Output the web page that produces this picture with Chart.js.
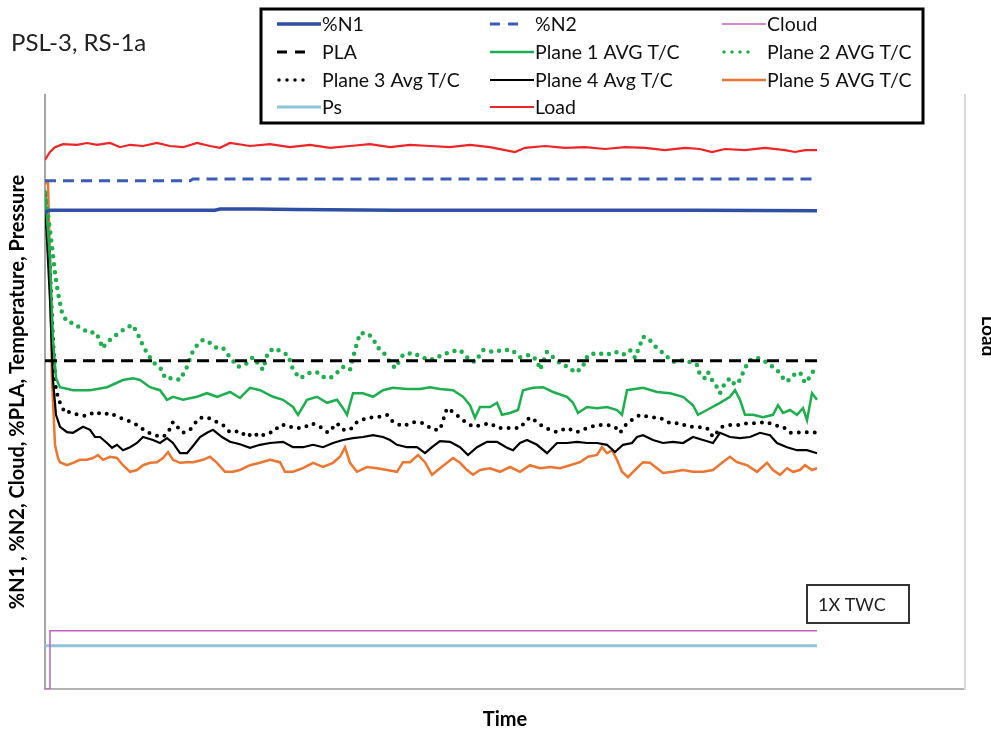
<!DOCTYPE html>
<html>
<head>
<meta charset="utf-8">
<script src="https://cdn.jsdelivr.net/npm/chart.js@4.4.1/dist/chart.umd.min.js"></script>
<style>
  html, body { margin: 0; padding: 0; background: #fff; }
  #wrap { width: 991px; height: 732px; }
</style>
</head>
<body>
<div id="wrap"><canvas id="c" width="991" height="732"></canvas></div>
<script>
// time axis in minutes, values in % of full scale
const n1T = [0, 0.5, 10, 17, 17.5, 21, 25, 35, 45, 55, 65, 77.2];
const n1V = [79.5, 79.8, 79.8, 79.8, 80.0, 80.0, 79.9, 79.8, 79.8, 79.8, 79.8, 79.7];

const n2T = [0, 14.5, 14.8, 77.2];
const n2V = [84.7, 84.7, 85.0, 85.0];

const cloudT = [0, 0.5, 0.5, 77.2];
const cloudV = [0, 0, 9.7, 9.7];

const plaT = [0, 77.2];
const plaV = [54.7, 54.7];

const psT = [0, 77.2];
const psV = [7.2, 7.2];

const loadT = [0, 0.5, 1.0, 1.8, 3.2, 4.2, 5.2, 6.5, 7.5, 8.5, 9.8, 11.2, 12.5, 13.8, 15.2, 16.5, 17.5, 18.5, 20.5, 22.5,
  24.5, 26.5, 28.5, 30.5, 32.5, 34.5, 36.5, 38.5, 40.5, 42.5, 44.5, 46.0, 47.0, 48.0, 50.0, 52.0, 54.0, 56.0, 58.0, 60.0,
  62.0, 64.0, 65.5, 66.7, 68.0, 70.0, 72.0, 74.0, 75.0, 76.0, 77.2];
const loadV = [88.2, 89.5, 90.3, 90.8, 90.7, 91.0, 90.7, 91.0, 90.3, 90.7, 90.5, 91.0, 90.5, 90.3, 91.0, 90.5, 90.2, 91.0, 90.5, 90.8,
  90.3, 90.7, 90.2, 90.5, 90.8, 90.3, 90.7, 90.5, 90.3, 90.7, 90.3, 89.8, 89.5, 90.2, 90.5, 90.2, 90.3, 90.0, 90.3, 90.2,
  89.8, 90.2, 90.0, 89.5, 90.0, 89.8, 90.2, 89.8, 89.5, 89.8, 89.8];

const p1T = [0, 0.5, 0.8, 1.1, 1.5, 2.8, 4.5, 6.2, 7.8, 8.8, 9.5, 10.5, 11.5, 12.2, 12.8, 13.8, 15.2, 16.2, 17.2, 18.5,
  19.5, 20.5, 21.5, 22.8, 23.8, 24.8, 25.3, 26.2, 27.2, 28.2, 29.2, 29.8, 30.2, 30.8, 31.8, 32.8, 33.8, 34.8, 36.2, 37.5,
  38.5, 39.5, 40.8, 41.8, 42.5, 43.0, 43.5, 44.5, 45.2, 45.7, 46.5, 47.3, 47.8, 48.8, 49.8, 50.8, 52.2, 52.8, 53.3, 54.2,
  55.2, 56.2, 57.2, 57.7, 58.2, 59.8, 61.2, 62.5, 63.8, 64.8, 65.3, 66.2, 67.5, 68.5, 69.0, 69.5, 70.0, 70.8, 71.8, 72.8,
  73.3, 73.8, 74.5, 75.2, 75.8, 76.2, 76.7, 77.2];
const p1V = [83.2, 71.5, 58.2, 51.8, 50.3, 49.8, 49.8, 50.3, 51.5, 51.8, 51.5, 50.3, 49.8, 48.2, 48.7, 48.2, 48.7, 49.3, 48.7, 49.5,
  48.5, 50.2, 49.8, 48.7, 48.2, 47.0, 45.7, 48.2, 48.7, 47.7, 48.2, 46.8, 45.7, 49.3, 49.3, 48.7, 49.8, 50.2, 50.0, 50.0,
  50.3, 50.0, 49.8, 48.7, 47.3, 45.2, 47.0, 47.0, 47.7, 45.7, 46.0, 46.5, 49.8, 50.2, 50.3, 49.5, 48.7, 47.7, 46.0, 47.0,
  46.8, 47.0, 46.5, 45.7, 49.8, 50.2, 49.5, 49.3, 48.7, 47.3, 45.7, 46.5, 47.7, 48.7, 49.8, 48.2, 45.7, 45.7, 45.3, 45.7,
  47.3, 46.0, 46.5, 45.7, 46.8, 44.8, 49.3, 48.2];

const p2T = [0, 0.5, 0.7, 1.0, 1.3, 1.7, 2.2, 2.8, 3.5, 4.5, 5.0, 5.5, 5.7, 6.5, 7.5, 8.2, 8.7, 9.2, 9.5, 10.2,
  10.8, 11.7, 12.0, 12.7, 13.5, 14.2, 14.7, 15.2, 15.8, 16.5, 17.2, 17.8, 18.5, 19.3, 20.2, 20.8, 21.8, 22.3, 23.0, 23.8,
  24.3, 24.8, 25.5, 26.5, 27.2, 27.8, 28.5, 29.2, 29.8, 30.5, 31.0, 31.5, 32.2, 32.8, 33.2, 33.8, 34.5, 35.0, 35.8, 36.8,
  37.7, 38.5, 39.5, 40.5, 41.5, 42.5, 43.0, 43.8, 44.8, 45.8, 46.7, 47.5, 48.5, 49.2, 49.5, 50.2, 50.8, 51.5, 52.5, 53.0,
  53.7, 54.3, 55.2, 56.2, 57.0, 57.8, 58.5, 59.0, 59.5, 59.8, 60.3, 60.7, 61.2, 61.8, 62.8, 63.8, 64.5, 65.2, 65.5, 66.0,
  66.3, 66.7, 67.2, 67.5, 68.0, 68.5, 69.0, 69.5, 70.0, 70.5, 71.2, 71.8, 72.5, 73.2, 73.7, 74.2, 74.8, 75.5, 76.0, 76.5,
  77.0];
const p2V = [82.7, 76.5, 73.7, 69.3, 66.0, 62.7, 61.2, 61.0, 60.2, 59.3, 59.5, 58.2, 56.8, 58.2, 59.5, 60.2, 60.7, 59.5, 58.2, 56.0,
  54.5, 53.2, 51.8, 51.8, 51.5, 53.7, 56.0, 57.3, 58.2, 57.7, 56.8, 56.8, 55.3, 53.7, 54.3, 55.3, 53.2, 56.2, 56.8, 56.0,
  55.7, 53.2, 51.8, 52.7, 52.8, 52.0, 51.8, 52.7, 53.7, 53.2, 56.5, 59.3, 59.3, 58.5, 57.0, 56.2, 54.5, 53.5, 55.7, 56.0,
  55.3, 54.8, 55.5, 56.2, 56.5, 54.8, 54.5, 56.5, 56.2, 56.5, 56.5, 55.3, 55.7, 54.8, 53.2, 56.2, 55.3, 54.3, 53.5, 52.7,
  53.5, 55.7, 56.0, 55.7, 56.2, 55.7, 56.5, 55.2, 57.3, 58.7, 58.5, 57.7, 56.8, 56.0, 54.5, 54.8, 54.5, 54.0, 52.3, 51.8,
  52.8, 51.5, 50.3, 49.3, 51.0, 51.8, 50.7, 51.5, 53.5, 54.8, 55.2, 54.8, 54.0, 53.2, 52.0, 51.2, 52.3, 52.8, 51.0, 52.0,
  53.5];

const p3T = [0, 0.5, 0.8, 1.1, 1.5, 2.0, 2.5, 3.3, 4.2, 5.0, 5.8, 6.5, 7.3, 8.2, 9.2, 10.2, 11.0, 11.8, 12.3, 12.8,
  13.5, 13.8, 14.5, 15.0, 15.5, 16.2, 16.8, 17.8, 18.5, 19.5, 20.2, 20.8, 21.5, 22.2, 22.8, 23.5, 24.2, 24.8, 25.8, 26.7,
  27.5, 28.3, 29.2, 29.8, 30.5, 31.2, 32.2, 33.2, 34.2, 34.8, 35.8, 36.8, 37.8, 38.8, 39.5, 40.2, 40.8, 41.8, 42.8, 43.7,
  44.5, 45.3, 46.5, 47.5, 48.0, 48.5, 49.2, 49.8, 50.5, 51.2, 52.2, 53.2, 54.2, 55.2, 56.2, 57.0, 57.5, 58.2, 59.0, 59.5,
  60.5, 61.5, 62.5, 63.5, 64.3, 65.2, 66.2, 66.8, 67.7, 68.5, 69.5, 70.2, 71.2, 72.2, 72.8, 73.8, 74.5, 75.2, 75.8, 76.5,
  77.2];
const p3V = [82.3, 69.8, 58.2, 49.8, 47.7, 46.0, 46.2, 45.7, 45.5, 46.2, 45.7, 46.0, 45.3, 44.8, 44.0, 42.8, 42.3, 42.0, 42.7, 44.5,
  43.2, 42.7, 43.2, 44.3, 45.2, 45.3, 44.8, 44.0, 42.8, 43.0, 42.0, 42.7, 42.0, 42.7, 42.8, 44.0, 44.0, 43.5, 43.5, 44.3,
  43.7, 42.7, 44.3, 43.2, 43.2, 44.5, 45.2, 45.3, 45.7, 44.5, 43.8, 44.5, 44.3, 43.2, 43.2, 46.8, 46.2, 44.8, 43.7, 44.0,
  44.3, 43.5, 43.5, 43.5, 44.5, 45.3, 44.5, 43.7, 43.2, 42.8, 43.5, 42.8, 43.5, 44.0, 44.0, 43.7, 42.7, 44.3, 45.2, 45.7,
  45.3, 45.2, 44.3, 44.3, 43.7, 43.7, 43.5, 42.0, 43.7, 44.0, 44.0, 44.3, 44.3, 44.5, 44.0, 43.7, 42.7, 42.7, 42.8, 42.8,
  42.7];

const p4T = [0, 0.5, 0.8, 1.1, 1.5, 2.2, 2.8, 3.3, 3.8, 4.5, 5.0, 5.5, 6.2, 6.7, 7.2, 7.8, 8.5, 9.2, 9.8, 10.8,
  11.5, 12.2, 12.8, 13.5, 14.2, 14.7, 15.5, 16.2, 16.8, 17.7, 18.5, 19.5, 20.5, 21.5, 22.5, 23.8, 24.8, 25.8, 26.8, 27.8,
  28.8, 29.8, 30.8, 31.8, 32.8, 33.8, 34.5, 35.2, 36.2, 37.2, 38.0, 38.7, 39.5, 40.5, 41.5, 42.3, 43.2, 44.2, 45.2, 46.2,
  46.8, 47.5, 48.2, 49.2, 50.2, 51.2, 52.2, 53.2, 54.2, 55.2, 56.2, 57.0, 57.8, 58.7, 59.2, 59.8, 60.8, 61.8, 62.8, 63.8,
  64.8, 65.8, 66.8, 67.5, 68.5, 69.5, 70.5, 71.5, 72.5, 73.2, 74.2, 75.2, 76.2, 76.8, 77.2];
const p4V = [81.5, 64.8, 51.5, 45.7, 43.7, 42.8, 42.7, 43.2, 43.7, 43.2, 42.0, 42.0, 41.0, 40.2, 40.7, 39.8, 40.3, 41.0, 42.0, 41.5,
  41.0, 41.8, 41.0, 39.3, 39.3, 40.3, 42.0, 42.7, 43.2, 42.0, 41.2, 40.8, 40.2, 40.7, 41.0, 41.2, 40.3, 40.3, 40.7, 40.3,
  41.0, 41.5, 41.8, 42.0, 42.3, 42.0, 41.5, 40.7, 40.3, 40.3, 39.3, 40.3, 41.3, 41.2, 40.3, 39.0, 40.3, 41.2, 41.2, 40.2,
  39.8, 41.0, 41.5, 40.7, 39.3, 41.0, 41.0, 41.2, 41.0, 41.0, 40.7, 39.5, 40.7, 41.0, 42.0, 42.3, 41.5, 41.0, 41.2, 41.0,
  42.0, 41.5, 41.0, 42.7, 42.0, 41.8, 42.0, 42.7, 42.3, 41.0, 40.3, 39.8, 39.8, 39.5, 39.3];

const p5T = [0, 0.3, 0.5, 0.7, 1.0, 1.3, 1.5, 2.2, 2.8, 3.5, 4.2, 4.8, 5.3, 5.8, 6.5, 7.2, 7.8, 8.5, 9.2, 9.8,
  10.5, 11.2, 11.8, 12.3, 12.8, 13.5, 14.2, 14.8, 15.8, 16.5, 17.2, 18.0, 18.8, 19.5, 20.5, 21.5, 22.5, 23.5, 24.0, 24.8,
  25.8, 26.8, 27.8, 28.8, 29.5, 30.0, 30.5, 31.2, 32.2, 33.2, 34.2, 35.2, 35.8, 36.5, 37.3, 38.0, 38.7, 39.5, 40.2, 40.8,
  41.5, 42.2, 42.8, 43.5, 44.5, 45.5, 46.5, 47.5, 48.5, 49.5, 50.5, 51.5, 52.5, 53.5, 54.3, 55.2, 55.7, 56.2, 56.7, 57.2,
  57.7, 58.3, 59.0, 59.8, 60.5, 61.2, 61.8, 62.8, 63.8, 64.8, 65.8, 66.8, 67.7, 68.5, 69.2, 70.2, 71.2, 72.2, 72.8, 73.5,
  74.2, 74.8, 75.5, 76.0, 76.7, 77.2];
const p5V = [84.3, 84.3, 71.5, 51.5, 40.7, 38.5, 37.8, 37.3, 37.7, 38.2, 38.2, 38.5, 39.0, 38.2, 38.7, 38.5, 37.3, 36.2, 36.5, 37.3,
  37.7, 37.8, 38.5, 39.5, 38.2, 37.7, 37.8, 37.8, 38.2, 38.7, 37.7, 36.2, 36.2, 36.5, 37.3, 37.7, 38.2, 37.8, 36.2, 36.2,
  36.8, 37.7, 37.0, 37.7, 38.7, 40.3, 37.7, 36.2, 37.0, 36.8, 36.5, 36.2, 37.8, 37.8, 39.0, 37.8, 35.7, 36.8, 37.7, 38.5,
  37.7, 36.5, 35.7, 36.5, 36.8, 36.2, 37.0, 36.2, 37.3, 36.8, 37.0, 36.8, 37.3, 37.8, 38.7, 39.0, 40.3, 39.3, 39.8, 38.2,
  36.2, 35.3, 36.5, 37.8, 37.7, 36.8, 36.0, 36.2, 36.5, 36.2, 36.2, 36.5, 37.7, 38.7, 37.8, 37.3, 36.2, 37.7, 36.5, 35.7,
  36.8, 36.2, 36.5, 37.3, 36.5, 36.8];

const FONT = "Lato, 'Open Sans', sans-serif";

function pts(t, v) {
  return t.map((x, i) => ({ x, y: v[i] }));
}

const DOT = [0, 8];

const datasets = [
  { label: "%N1", data: pts(n1T, n1V), borderColor: "#2f4fa4", borderWidth: 3.5 },
  { label: "%N2", data: pts(n2T, n2V), borderColor: "#3a5cb8", borderWidth: 3, borderDash: [11, 7] },
  { label: "Cloud", data: pts(cloudT, cloudV), borderColor: "#c45fc4", borderWidth: 1.5 },
  { label: "PLA", data: pts(plaT, plaV), borderColor: "#000000", borderWidth: 3, borderDash: [12, 7] },
  { label: "Plane 1 AVG T/C", data: pts(p1T, p1V), borderColor: "#1daf4d", borderWidth: 2.5 },
  { label: "Plane 2 AVG T/C", data: pts(p2T, p2V), borderColor: "#1daf4d", borderWidth: 4.5, borderDash: DOT, borderCapStyle: "round" },
  { label: "Plane 3 Avg T/C", data: pts(p3T, p3V), borderColor: "#000000", borderWidth: 4, borderDash: DOT, borderCapStyle: "round" },
  { label: "Plane 4 Avg T/C", data: pts(p4T, p4V), borderColor: "#000000", borderWidth: 2.2 },
  { label: "Plane 5 AVG T/C", data: pts(p5T, p5V), borderColor: "#ec7530", borderWidth: 2.5 },
  { label: "Ps", data: pts(psT, psV), borderColor: "#8ec5da", borderWidth: 3 },
  { label: "Load", data: pts(loadT, loadV), borderColor: "#f02424", borderWidth: 2.2, yAxisID: "y2" },
];
datasets.forEach(d => { d.pointRadius = 0; d.fill = false; d.tension = 0; });

// legend box, title, annotation and right-axis label drawn on top
const decorations = {
  id: "decorations",
  afterDraw(chart) {
    const ctx = chart.ctx;
    ctx.save();

    ctx.fillStyle = "#222";
    ctx.font = "24px " + FONT;
    ctx.textBaseline = "middle";
    ctx.fillText("PSL-3, RS-1a", 11, 43);

    // legend
    ctx.lineWidth = 3;
    ctx.strokeStyle = "#000";
    ctx.strokeRect(261, 9, 662, 114);
    const colX = [277, 490, 722];
    const rowY = [24, 52, 80, 107];
    ctx.font = "19.5px " + FONT;
    chart.data.datasets.forEach((d, i) => {
      const cx = colX[i % 3], cy = rowY[Math.floor(i / 3)];
      const dotted = d.borderDash === DOT;
      ctx.save();
      ctx.beginPath();
      ctx.strokeStyle = d.borderColor;
      ctx.lineWidth = dotted ? 3.5 : Math.min(d.borderWidth, 3.5);
      ctx.lineCap = d.borderCapStyle || "butt";
      ctx.setLineDash(d.borderDash ? (dotted ? [0, 8] : [10, 8]) : []);
      ctx.moveTo(cx + (dotted ? 2 : 0), cy);
      ctx.lineTo(cx + (d.borderDash ? 34 : 44), cy);
      ctx.stroke();
      ctx.restore();
      ctx.fillStyle = "#111";
      ctx.fillText(d.label, cx + 45, cy + 1);
    });

    // 1X TWC tag
    ctx.lineWidth = 2;
    ctx.strokeStyle = "#333";
    ctx.strokeRect(807, 585, 102, 38);
    ctx.font = "18px " + FONT;
    ctx.fillStyle = "#222";
    ctx.fillText("1X TWC", 818, 605);

    // right axis title, cut at the edge
    ctx.translate(988, 336);
    ctx.rotate(Math.PI / 2);
    ctx.font = "bold 19px " + FONT;
    ctx.textAlign = "center";
    ctx.fillStyle = "#000";
    ctx.fillText("Load", 0, 0);
    ctx.restore();
  }
};

new Chart(document.getElementById("c"), {
  type: "line",
  data: { datasets },
  options: {
    responsive: false,
    animation: false,
    layout: { padding: { left: 0, top: 95, right: 26, bottom: 0 } },
    plugins: { legend: { display: false }, tooltip: { enabled: false } },
    scales: {
      x: {
        type: "linear", min: 0, max: 92,
        grid: { display: false, drawTicks: false },
        ticks: { display: false },
        border: { color: "#b3b3b3", width: 2 },
        title: { display: true, text: "Time", color: "#000", font: { family: FONT, size: 20, weight: "bold" }, padding: { top: 19, bottom: 0 } }
      },
      y: {
        min: 0, max: 99,
        grid: { display: false, drawTicks: false },
        ticks: { display: false },
        border: { color: "#a6a6a6", width: 2 },
        title: { display: true, text: "%N1 , %N2, Cloud, %PLA, Temperature, Pressure", color: "#000", font: { family: FONT, size: 20, weight: "bold" }, padding: { top: 6, bottom: 15 } }
      },
      y2: {
        position: "right", min: 0, max: 99,
        grid: { display: false, drawTicks: false },
        ticks: { display: false },
        border: { color: "#d9d9d9", width: 2 }
      }
    }
  },
  plugins: [decorations]
});
</script>
</body>
</html>
